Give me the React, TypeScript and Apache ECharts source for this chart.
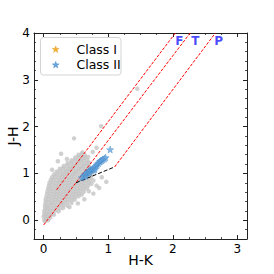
import React, { useEffect, useRef } from "react";
import * as echarts from "echarts";

// Field stars (grey cloud)
const grayPoints: number[][] = [
  [0.01, 0.01], [0.04, 0.03], [0.07, 0.0], [0.02, -0.02],
  [0.0, 0.08], [0.03, 0.07], [0.06, 0.09], [0.10, 0.06],
  [0.01, 0.14], [0.04, 0.13], [0.08, 0.15], [0.12, 0.13], [0.16, 0.12],
  [0.01, 0.20], [0.05, 0.21], [0.09, 0.19], [0.14, 0.20], [0.18, 0.21], [0.23, 0.19],
  [0.02, 0.26], [0.06, 0.27], [0.10, 0.25], [0.15, 0.26], [0.20, 0.27], [0.25, 0.25], [0.30, 0.26],
  [0.02, 0.32], [0.06, 0.31], [0.11, 0.33], [0.16, 0.32], [0.21, 0.31], [0.26, 0.33], [0.31, 0.32], [0.37, 0.31],
  [0.03, 0.38], [0.07, 0.39], [0.12, 0.37], [0.17, 0.38], [0.22, 0.39], [0.27, 0.37], [0.32, 0.38], [0.37, 0.39], [0.43, 0.37],
  [0.03, 0.44], [0.08, 0.45], [0.13, 0.43], [0.18, 0.44], [0.23, 0.45], [0.28, 0.43], [0.33, 0.44], [0.38, 0.45], [0.43, 0.43], [0.48, 0.44],
  [0.04, 0.50], [0.09, 0.51], [0.14, 0.49], [0.19, 0.50], [0.24, 0.51], [0.29, 0.49], [0.34, 0.50], [0.39, 0.51], [0.44, 0.49], [0.49, 0.50], [0.54, 0.51],
  [0.05, 0.56], [0.10, 0.57], [0.15, 0.55], [0.20, 0.56], [0.25, 0.57], [0.30, 0.55], [0.35, 0.56], [0.40, 0.57], [0.45, 0.55], [0.50, 0.56], [0.55, 0.57], [0.59, 0.55],
  [0.06, 0.62], [0.11, 0.63], [0.16, 0.61], [0.21, 0.62], [0.26, 0.63], [0.31, 0.61], [0.36, 0.62], [0.41, 0.63], [0.46, 0.61], [0.51, 0.62], [0.56, 0.63], [0.62, 0.61],
  [0.07, 0.68], [0.12, 0.69], [0.17, 0.67], [0.22, 0.68], [0.27, 0.69], [0.32, 0.67], [0.37, 0.68], [0.42, 0.69], [0.47, 0.67], [0.52, 0.68], [0.57, 0.69], [0.62, 0.67], [0.67, 0.68],
  [0.08, 0.74], [0.13, 0.75], [0.18, 0.73], [0.23, 0.74], [0.28, 0.75], [0.33, 0.73], [0.38, 0.74], [0.43, 0.75], [0.48, 0.73], [0.53, 0.74], [0.58, 0.75], [0.63, 0.73], [0.69, 0.74],
  [0.09, 0.80], [0.14, 0.81], [0.19, 0.79], [0.24, 0.80], [0.29, 0.81], [0.34, 0.79], [0.39, 0.80], [0.44, 0.81], [0.49, 0.79], [0.54, 0.80], [0.59, 0.81], [0.64, 0.79], [0.70, 0.80], [0.74, 0.78],
  [0.11, 0.86], [0.16, 0.87], [0.21, 0.85], [0.26, 0.86], [0.31, 0.87], [0.36, 0.85], [0.41, 0.86], [0.46, 0.87], [0.51, 0.85], [0.56, 0.86], [0.61, 0.87], [0.66, 0.85], [0.71, 0.86], [0.77, 0.85],
  [0.13, 0.92], [0.18, 0.93], [0.23, 0.91], [0.28, 0.92], [0.33, 0.93], [0.38, 0.91], [0.43, 0.92], [0.48, 0.93], [0.53, 0.91], [0.58, 0.92], [0.63, 0.93], [0.68, 0.91], [0.73, 0.92],
  [0.16, 0.98], [0.21, 0.99], [0.26, 0.97], [0.31, 0.98], [0.36, 0.99], [0.41, 0.97], [0.46, 0.98], [0.51, 0.99], [0.56, 0.97], [0.61, 0.98], [0.66, 0.99], [0.71, 0.97], [0.75, 0.98],
  [0.20, 1.04], [0.25, 1.05], [0.30, 1.03], [0.35, 1.04], [0.40, 1.05], [0.45, 1.03], [0.50, 1.04], [0.55, 1.05], [0.60, 1.03], [0.65, 1.04], [0.70, 1.05],
  [0.25, 1.10], [0.30, 1.11], [0.35, 1.09], [0.40, 1.10], [0.45, 1.11], [0.50, 1.09], [0.55, 1.10], [0.60, 1.11], [0.65, 1.09], [0.70, 1.10],
  [0.31, 1.16], [0.36, 1.17], [0.41, 1.15], [0.46, 1.16], [0.51, 1.17], [0.56, 1.15], [0.61, 1.16], [0.66, 1.17], [0.70, 1.15],
  [0.37, 1.22], [0.42, 1.23], [0.47, 1.21], [0.52, 1.22], [0.57, 1.23], [0.62, 1.21], [0.67, 1.22], [0.71, 1.23],
  [0.43, 1.28], [0.48, 1.29], [0.53, 1.27], [0.58, 1.28], [0.63, 1.29], [0.68, 1.27],
  [0.49, 1.34], [0.54, 1.35], [0.59, 1.33], [0.64, 1.34], [0.69, 1.35],
  [0.54, 1.40], [0.59, 1.41], [0.64, 1.39], [0.60, 1.45],
  // scattered outliers
  [0.27, 1.42], [0.47, 1.75], [0.89, 2.01], [1.45, 2.81], [0.82, 1.55], [0.86, 0.69],
  [0.63, 0.45], [0.40, 0.28], [0.97, 0.82], [0.22, 1.26], [0.13, 1.08], [0.77, 0.57],
  [0.53, 0.36], [0.76, 1.46], [0.36, 1.31], [0.90, 0.92], [0.70, 0.62], [0.82, 0.74],
];

// Class II YSOs (blue stars)
const classIIPoints: number[][] = [
  [0.59, 0.91], [0.62, 0.94], [0.64, 0.97], [0.65, 0.95], [0.66, 1.0], [0.68, 1.02],
  [0.70, 1.05], [0.71, 1.02], [0.72, 1.07], [0.74, 1.08], [0.76, 1.10], [0.77, 1.07],
  [0.78, 1.12], [0.79, 1.09], [0.80, 1.14], [0.82, 1.17], [0.83, 1.20], [0.85, 1.22],
  [0.87, 1.25], [0.88, 1.27], [0.90, 1.28], [0.92, 1.30], [0.94, 1.32], [0.96, 1.34],
  [1.03, 1.51],
];

// Class I YSOs (none visible)
const classIPoints: number[][] = [];

// Reddening vectors (red dashed) and CTTS locus (black dashed)
const redLineF: number[][] = [[0.2, 0.65], [2.04, 4.0]];
const redLineT: number[][] = [[0.0, -0.1], [2.27, 4.0]];
const redLineP: number[][] = [[1.1, 1.14], [2.66, 4.0]];
const cttsLocus: number[][] = [[0.5, 0.8], [1.1, 1.14]];

// Region labels
const regionLabels = [
  { name: "F", value: [2.1, 3.83] },
  { name: "T", value: [2.35, 3.83] },
  { name: "P", value: [2.71, 3.83] },
];

const legendNames = ["Class I", "Class II"];
const xLimits = [-0.15, 3.15];
const yLimits = [-0.4, 4.0];

const STAR_D =
  "M0,-10L2.35,-3.24L9.51,-3.09L3.8,1.24L5.88,8.09L0,4L-5.88,8.09L-3.8,1.24L-9.51,-3.09L-2.35,-3.24Z";
const STAR = "path://" + STAR_D;

const CLASS1_COLOR = "#f2b23a";
const CLASS2_COLOR = "#6aa6dc";
const FONT = "DejaVu Sans";

echarts.graphic.registerShape("star5", echarts.graphic.extendPath(STAR_D, {}) as any);

function axisBase(isX: boolean, main: boolean) {
  return {
    type: "value",
    min: isX ? xLimits[0] : yLimits[0],
    max: isX ? xLimits[1] : yLimits[1],
    splitNumber: isX ? 3 : 4,
    minInterval: 1,
    maxInterval: 1,
    nameMoveOverlap: false,
    axisLine: { show: true, onZero: false, lineStyle: { color: "#222", width: 1 } },
    axisTick: { show: true, inside: true, length: 4, lineStyle: { color: "#222", width: 1 } },
    minorTick: {
      show: true,
      splitNumber: isX ? 4 : 5,
      length: 2,
      lineStyle: { color: "#222", width: 0.8 },
    },
    splitLine: { show: false },
    axisLabel: main
      ? {
          show: true,
          color: "#000",
          fontFamily: FONT,
          fontSize: 12,
          margin: 4,
          showMinLabel: false,
          showMaxLabel: isX ? false : true,
        }
      : { show: false },
  };
}

export default function App() {
  const ref = useRef<HTMLDivElement>(null);

  useEffect(() => {
    if (!ref.current) return;
    const chart = echarts.init(ref.current, undefined, { renderer: "svg" });
    const dashed = (data: number[][], color: string, dash: number[]) => ({
      type: "line",
      data,
      symbol: "none",
      silent: true,
      z: 3,
      lineStyle: { color, width: 1, type: dash },
    });
    const legendStar = (cy: number, color: string, border: string) => ({
      type: "star5",
      x: 55.7,
      y: cy,
      scaleX: 0.36,
      scaleY: 0.36,
      style: { fill: color, stroke: border, lineWidth: 1.2 },
    });
    const legendText = (cy: number, text: string) => ({
      type: "text",
      x: 76.5,
      y: cy,
      style: {
        text,
        fill: "#000",
        font: `12.5px "${FONT}"`,
        textVerticalAlign: "middle",
        verticalAlign: "middle",
      },
    });
    chart.setOption({
      animation: false,
      backgroundColor: "#fff",
      grid: {
        left: 34,
        right: 27,
        top: 33,
        bottom: 35,
        containLabel: false,
        outerBoundsMode: "none",
      },
      graphic: [
        {
          type: "group",
          z: 100,
          children: [
            {
              type: "rect",
              shape: { x: 40.5, y: 37.5, width: 80.5, height: 37.5, r: 3 },
              style: { fill: "rgba(255,255,255,0.85)", stroke: "#d4d4d4", lineWidth: 1 },
            },
            legendStar(49.5, CLASS1_COLOR, "#e09a1a"),
            legendText(49, legendNames[0]),
            legendStar(65, CLASS2_COLOR, "#3f86c8"),
            legendText(64.7, legendNames[1]),
          ],
        },
      ],
      xAxis: [
        {
          ...axisBase(true, true),
          position: "bottom",
          name: "H-K",
          nameLocation: "middle",
          nameGap: 14,
          nameTextStyle: { fontFamily: FONT, fontSize: 14, color: "#000" },
        },
        { ...axisBase(true, false), position: "top" },
      ],
      yAxis: [
        {
          ...axisBase(false, true),
          position: "left",
          name: "J-H",
          nameLocation: "middle",
          nameGap: 14,
          nameTextStyle: { fontFamily: FONT, fontSize: 14, color: "#000" },
        },
        { ...axisBase(false, false), position: "right" },
      ],
      series: [
        {
          name: "field",
          type: "scatter",
          data: grayPoints,
          symbol: "circle",
          symbolSize: 4.5,
          silent: true,
          z: 1,
          itemStyle: { color: "#c4c4c4" },
        },
        dashed(redLineF, "#ff0000", [3, 1.5]),
        dashed(redLineT, "#ff0000", [3, 1.5]),
        dashed(redLineP, "#ff0000", [3, 1.5]),
        dashed(cttsLocus, "#000000", [4, 2]),
        {
          name: legendNames[0],
          type: "scatter",
          data: classIPoints,
          symbol: STAR,
          symbolSize: 7,
          z: 4,
          itemStyle: { color: CLASS1_COLOR, borderColor: "#e09a1a", borderWidth: 0.5 },
        },
        {
          name: legendNames[1],
          type: "scatter",
          data: classIIPoints,
          symbol: STAR,
          symbolSize: 7,
          z: 4,
          itemStyle: { color: CLASS2_COLOR, borderColor: "#3f86c8", borderWidth: 0.5 },
        },
        {
          name: "labels",
          type: "scatter",
          data: regionLabels,
          symbolSize: 0,
          silent: true,
          z: 5,
          label: {
            show: true,
            position: "inside",
            formatter: "{b}",
            color: "#1a1aff",
            fontFamily: FONT,
            fontSize: 12,
            fontWeight: "bold",
          },
        },
      ],
    });
    return () => chart.dispose();
  }, []);

  return (
    <div
      ref={ref}
      style={{ position: "absolute", left: 0, top: 0, width: 274, height: 274 }}
    />
  );
}
